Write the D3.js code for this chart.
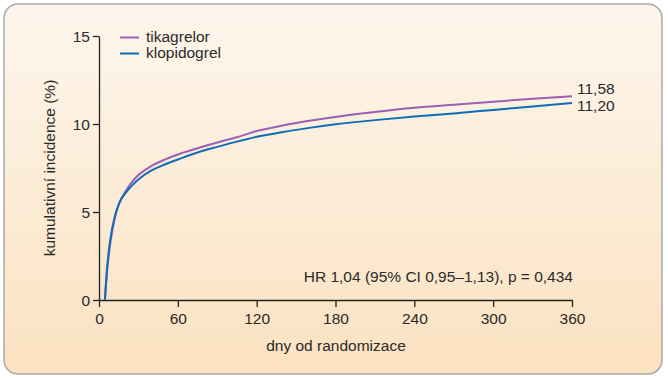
<!DOCTYPE html>
<html><head><meta charset="utf-8">
<script src="https://cdn.jsdelivr.net/npm/d3@7"></script>
<style>html,body{margin:0;padding:0;background:#fff;}svg{display:block;}</style>
</head><body><svg id="c" width="668" height="380"></svg>
<script>
const days = [4.5, 6, 8, 10, 13, 16, 20, 25, 30, 40, 50, 60, 75, 90, 105, 120, 140, 160, 180, 210, 240, 270, 300, 330, 360];
const tikagrelor = [0, 1.5, 2.9, 3.9, 4.95, 5.6, 6.15, 6.7, 7.1, 7.62, 7.98, 8.27, 8.62, 8.95, 9.25, 9.6, 9.92, 10.18, 10.4, 10.68, 10.92, 11.1, 11.27, 11.43, 11.58];
const klopidogrel = [0, 1.7, 3.1, 4.05, 5.0, 5.6, 6.05, 6.5, 6.85, 7.36, 7.7, 7.98, 8.38, 8.7, 9.0, 9.27, 9.55, 9.78, 9.98, 10.22, 10.42, 10.6, 10.8, 11.0, 11.2];
const xTicks = [0, 60, 120, 180, 240, 300, 360];
const yTicks = [0, 5, 10, 15];
const seriesNames = ["tikagrelor", "klopidogrel"];
const endLabels = ["11,58", "11,20"];
const colors = ["#9c5fb4", "#0f6cb8"];
const statText = "HR 1,04 (95% CI 0,95\u20131,13), p = 0,434";

const svg = d3.select("#c");
const defs = svg.append("defs");
const g = defs.append("linearGradient").attr("id","bg").attr("x1",0).attr("y1",0).attr("x2",0).attr("y2",1);
g.append("stop").attr("offset","0%").attr("stop-color","#fdf6ed");
g.append("stop").attr("offset","100%").attr("stop-color","#fbe2c0");
svg.append("rect").attr("x",4).attr("y",4).attr("width",658).attr("height",370).attr("rx",14)
  .attr("fill","url(#bg)").attr("stroke","#a9a9a9").attr("stroke-width",1.5);

const font = "'Liberation Sans', Arial, sans-serif";
const fs = "15.5px";
const tc = "#2a2a2a";
const x = d3.scaleLinear().domain([0,360]).range([99,572]);
const y = d3.scaleLinear().domain([0,15]).range([300,36]);

const xAxis = svg.append("g").attr("transform","translate(0,300)")
  .call(d3.axisBottom(x).tickValues(xTicks).tickSize(7).tickPadding(6).tickSizeOuter(0));
const yAxis = svg.append("g").attr("transform","translate(99,0)")
  .call(d3.axisLeft(y).tickValues(yTicks).tickSize(6).tickPadding(3).tickSizeOuter(0));
[xAxis,yAxis].forEach(a=>{
  a.select(".domain").attr("stroke","#222").attr("stroke-width",1.3);
  a.selectAll(".tick line").attr("stroke","#222").attr("stroke-width",1.3);
  a.selectAll(".tick text").attr("fill",tc).style("font-family",font).style("font-size",fs);
});
yAxis.selectAll(".tick text").attr("dy","0.35em");

const line = d3.line().x(d=>x(d[0])).y(d=>y(d[1])).curve(d3.curveMonotoneX);
[tikagrelor, klopidogrel].forEach((vals,i)=>{
  svg.append("path").datum(days.map((d,j)=>[d,vals[j]]))
    .attr("d",line).attr("fill","none").attr("stroke",colors[i]).attr("stroke-width",2);
});
// end labels
[tikagrelor, klopidogrel].forEach((vals,i)=>{
  svg.append("text").attr("x",x(360)+5).attr("y",i===0?y(vals[vals.length-1])-8:y(vals[vals.length-1])+3)
    .attr("dy","0.35em").attr("fill",tc).style("font-family",font).style("font-size",fs).text(endLabels[i]);
});
// legend
seriesNames.forEach((n,i)=>{
  const ly = 37.5 + i*16;
  svg.append("line").attr("x1",120).attr("x2",139).attr("y1",ly).attr("y2",ly).attr("stroke",colors[i]).attr("stroke-width",2);
  svg.append("text").attr("x",146).attr("y",ly).attr("dy","0.3em").attr("fill",tc)
    .style("font-family",font).style("font-size",fs).text(n);
});
svg.append("text").attr("x",573).attr("y",282).attr("text-anchor","end").attr("fill",tc)
  .style("font-family",font).style("font-size",fs).text(statText);
svg.append("text").attr("x",336).attr("y",351).attr("text-anchor","middle").attr("fill",tc)
  .style("font-family",font).style("font-size",fs).text("dny od randomizace");
svg.append("text").attr("transform","translate(55,168) rotate(-90)").attr("text-anchor","middle").attr("fill",tc)
  .style("font-family",font).style("font-size",fs).text("kumulativní incidence (%)");
</script></body></html>
